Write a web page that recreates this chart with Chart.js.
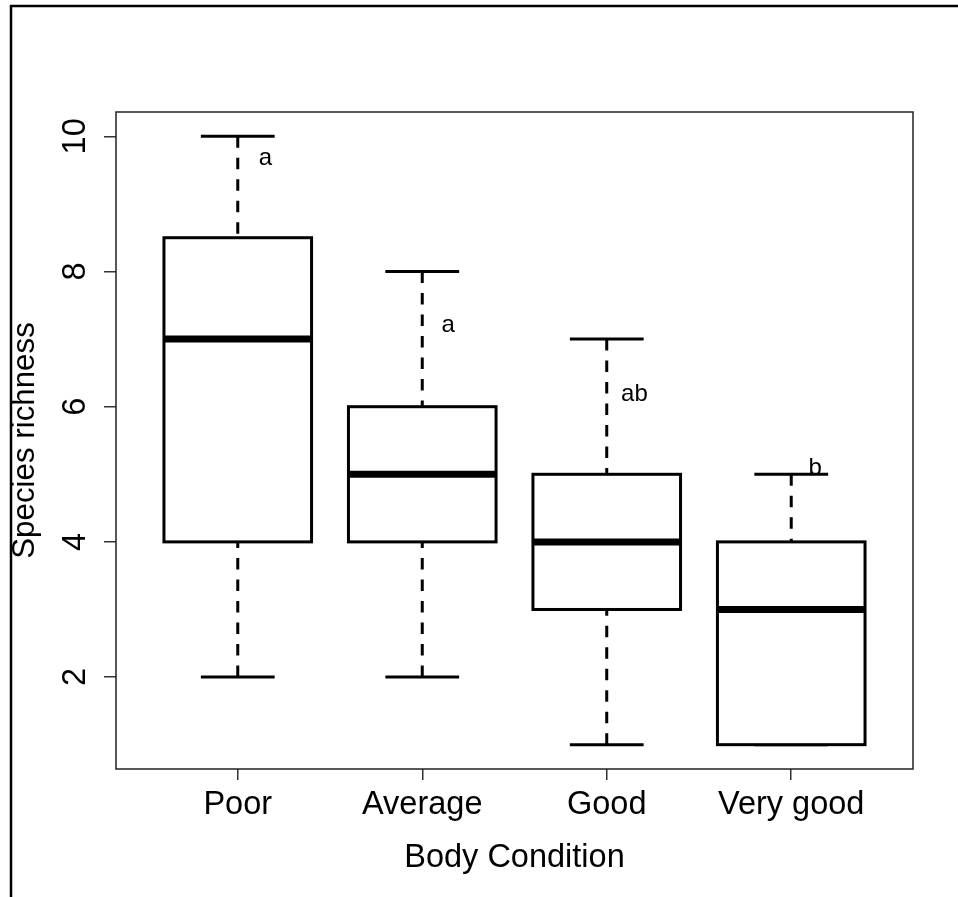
<!DOCTYPE html>
<html>
<head>
<meta charset="utf-8">
<script src="https://cdn.jsdelivr.net/npm/chart.js@4.4.1/dist/chart.umd.min.js"></script>
<style>
  body { margin: 0; background: #fff; }
  #wrap { width: 958px; height: 897px; }
</style>
</head>
<body>
<div id="wrap"><canvas id="my_canvas" width="958" height="897"></canvas></div>
<script>
// species richness by body condition (five-number summaries per group)
var categories   = ['Poor', 'Average', 'Good', 'Very good'];
var whiskerLow   = [2, 2, 1, 1];
var lowerQ       = [4, 4, 3, 1];
var medians      = [7, 5, 4, 3];
var upperQ       = [8.5, 6, 5, 4];
var whiskerHigh  = [10, 8, 7, 5];
var yTicks       = [2, 4, 6, 8, 10];

// post-hoc group letters, placed in data units
var groupLetters = ['a', 'a', 'ab', 'b'];
var letterX      = [1.15, 2.14, 3.15, 4.13];
var letterY      = [9.57, 7.1, 6.08, 4.99];

var FONT = '"Liberation Sans", Arial, sans-serif';
var BIG = 32.5;

var boxes = [];
for (var i in categories) {
    boxes.push({ x: Number(i) + 1, y: [lowerQ[i], upperQ[i]] });
}

var boxPlotExtras = {
    id: 'boxPlotExtras',
    beforeDatasetsDraw: function(chart) {
        // whiskers and staples go under the boxes
        var ctx = chart.ctx;
        var xs = chart.scales.x, ys = chart.scales.y;
        var bars = chart.getDatasetMeta(0).data;
        ctx.save();
        ctx.strokeStyle = '#000';
        for (var i = 0; i < categories.length; i++) {
            var cx = xs.getPixelForValue(i + 1);
            var half = bars[i].width / 4;
            var yh = ys.getPixelForValue(whiskerHigh[i]);
            var yl = ys.getPixelForValue(whiskerLow[i]);
            ctx.lineWidth = 3;
            ctx.setLineDash([11.5, 10]);
            // dashes start at the whisker end
            ctx.beginPath();
            ctx.moveTo(cx, yh);
            ctx.lineTo(cx, ys.getPixelForValue(upperQ[i]));
            ctx.stroke();
            ctx.beginPath();
            ctx.moveTo(cx, yl);
            ctx.lineTo(cx, ys.getPixelForValue(lowerQ[i]));
            ctx.stroke();
            ctx.setLineDash([]);
            ctx.beginPath();
            ctx.moveTo(cx - half, yh); ctx.lineTo(cx + half, yh);
            ctx.moveTo(cx - half, yl); ctx.lineTo(cx + half, yl);
            ctx.stroke();
        }
        ctx.restore();
    },
    afterDatasetsDraw: function(chart) {
        var ctx = chart.ctx;
        var xs = chart.scales.x, ys = chart.scales.y;
        var bars = chart.getDatasetMeta(0).data;
        ctx.save();
        ctx.strokeStyle = '#000';
        ctx.lineCap = 'butt';
        for (var i = 0; i < categories.length; i++) {
            var b = bars[i];
            var half = b.width / 2;
            // box outline centred on the quartiles
            ctx.lineWidth = 3;
            ctx.strokeRect(b.x - half, b.y, b.width, b.base - b.y);
            // median
            var ym = ys.getPixelForValue(medians[i]);
            ctx.lineWidth = 7;
            ctx.beginPath();
            ctx.moveTo(b.x - half, ym);
            ctx.lineTo(b.x + half, ym);
            ctx.stroke();
        }
        // letters
        ctx.fillStyle = '#000';
        ctx.font = '24px ' + FONT;
        ctx.textAlign = 'center';
        ctx.textBaseline = 'alphabetic';
        for (var j = 0; j < groupLetters.length; j++) {
            ctx.fillText(groupLetters[j], xs.getPixelForValue(letterX[j]), ys.getPixelForValue(letterY[j]));
        }
        ctx.restore();
    },
    afterDraw: function(chart) {
        var ctx = chart.ctx;
        var a = chart.chartArea;
        var ys = chart.scales.y;
        ctx.save();
        // plot frame
        ctx.strokeStyle = '#222';
        ctx.lineWidth = 1.5;
        ctx.strokeRect(a.left, a.top, a.right - a.left, a.bottom - a.top);
        // outer frame, top and left only
        ctx.strokeStyle = '#000';
        ctx.lineWidth = 2.5;
        ctx.beginPath();
        ctx.moveTo(958, 6);
        ctx.lineTo(11, 6);
        ctx.lineTo(11, 897);
        ctx.stroke();
        // y tick labels, parallel to the axis
        ctx.fillStyle = '#000';
        ctx.font = BIG + 'px ' + FONT;
        ctx.textAlign = 'center';
        ctx.textBaseline = 'alphabetic';
        yTicks.forEach(function(v) {
            ctx.save();
            ctx.translate(85, ys.getPixelForValue(v));
            ctx.rotate(-Math.PI / 2);
            ctx.fillText(String(v), 0, 0);
            ctx.restore();
        });
        // axis titles
        ctx.save();
        ctx.font = '31.3px ' + FONT;
        ctx.translate(34, (a.top + a.bottom) / 2);
        ctx.rotate(-Math.PI / 2);
        ctx.fillText('Species richness', 0, 0);
        ctx.restore();
        ctx.fillText('Body Condition', (a.left + a.right) / 2, 867);
        ctx.restore();
    }
};

var ctx = document.getElementById('my_canvas');

var boxChart = new Chart(ctx, {
    type: 'bar',
    data: {
        datasets: [{
            label: 'Species richness',
            data: boxes,
            backgroundColor: '#fff',
            borderWidth: 0,
            barPercentage: 0.8,
            categoryPercentage: 1.0
        }]
    },
    options: {
        responsive: false,
        animation: false,
        layout: { padding: { left: 0, top: 112, right: 45, bottom: 0 } },
        plugins: { legend: { display: false }, tooltip: { enabled: false } },
        scales: {
            x: {
                type: 'linear',
                min: 0.34,
                max: 4.66,
                offset: false,
                afterBuildTicks: function(scale) {
                    scale.ticks = categories.map(function(c, i) { return { value: i + 1 }; });
                },
                afterFit: function(scale) { scale.height = 128; },
                grid: { offset: false, drawOnChartArea: false, drawTicks: true, tickLength: 11, color: '#333', lineWidth: 1.5 },
                border: { display: false },
                ticks: {
                    padding: 6,
                    color: '#000',
                    font: { family: FONT, size: BIG },
                    maxRotation: 0,
                    callback: function(v) { return categories[v - 1]; }
                }
            },
            y: {
                min: 0.64,
                max: 10.36,
                afterBuildTicks: function(scale) {
                    scale.ticks = yTicks.map(function(v) { return { value: v }; });
                },
                afterFit: function(scale) { scale.width = 116; },
                grid: { drawOnChartArea: false, drawTicks: true, tickLength: 12, color: '#333', lineWidth: 1.5 },
                border: { display: false },
                ticks: { display: false }
            }
        }
    },
    plugins: [boxPlotExtras]
});
</script>
</body>
</html>
